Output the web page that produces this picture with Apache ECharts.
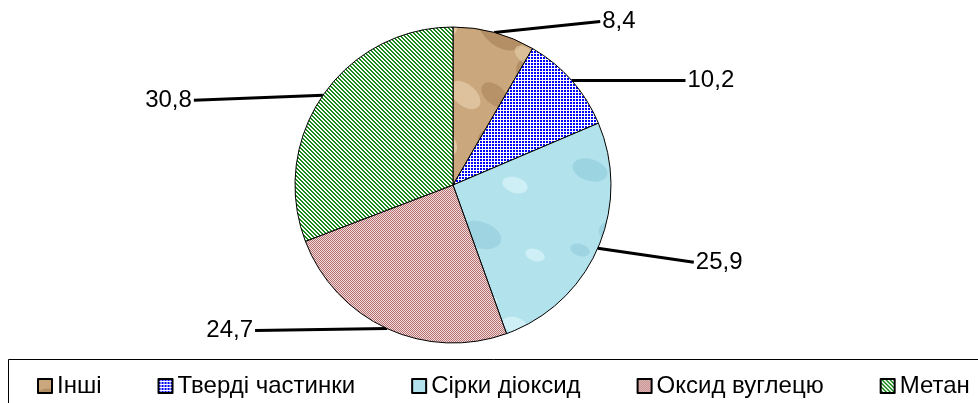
<!DOCTYPE html>
<html>
<head>
<meta charset="utf-8">
<script src="https://cdn.jsdelivr.net/npm/echarts@6/dist/echarts.min.js"></script>
<style>html,body{margin:0;padding:0;background:#fff;}#c{width:978px;height:403px;}</style>
</head>
<body>
<div id="c"></div>
<script>
const categories = ['Інші', 'Тверді частинки', 'Сірки діоксид', 'Оксид вуглецю', 'Метан'];
const values = [8.4, 10.2, 25.9, 24.7, 30.8];
const valueLabels = ['8,4', '10,2', '25,9', '24,7', '30,8'];

function mk(w, h, draw) {
  const c = document.createElement('canvas');
  c.width = w; c.height = h;
  draw(c.getContext('2d'), w, h);
  return c;
}
function blobsOn(g, w, h, list, rot) {
  list.forEach(b => {
    for (let dx = -w; dx <= w; dx += w) for (let dy = -h; dy <= h; dy += h) {
      g.fillStyle = b[3]; g.beginPath();
      g.ellipse(b[0] + dx, b[1] + dy, b[2], b[2] * 0.6, rot, 0, Math.PI * 2); g.fill();
    }
  });
}
const brown = mk(120, 120, (g, w, h) => {
  g.fillStyle = '#caa77c'; g.fillRect(0, 0, w, h);
  blobsOn(g, w, h, [
    [20,30,26,'rgba(140,100,60,0.35)'],[80,20,20,'rgba(240,222,190,0.55)'],
    [60,80,28,'rgba(130,92,55,0.3)'],[105,95,18,'rgba(240,222,190,0.5)'],
    [15,95,16,'rgba(150,110,70,0.35)'],[45,55,12,'rgba(235,215,180,0.5)']], 0.7);
});
const dots = mk(3, 3, (g) => {
  g.fillStyle = '#ffffff'; g.fillRect(0, 0, 3, 3);
  g.fillStyle = '#0000ff'; g.fillRect(0, 0, 2, 2);
});
const water = mk(140, 140, (g, w, h) => {
  g.fillStyle = '#b2e2eb'; g.fillRect(0, 0, w, h);
  blobsOn(g, w, h, [
    [30,30,18,'rgba(130,195,212,0.45)'],[95,45,13,'rgba(225,248,252,0.6)'],
    [60,95,22,'rgba(130,195,212,0.4)'],[115,115,10,'rgba(225,248,252,0.6)'],
    [20,110,10,'rgba(130,195,212,0.4)'],[70,20,8,'rgba(225,248,252,0.55)']], 0.3);
});
const checker = mk(2, 2, (g) => {
  g.fillStyle = '#f0dcdc'; g.fillRect(0, 0, 2, 2);
  g.fillStyle = '#b87070'; g.fillRect(0, 0, 1, 1); g.fillRect(1, 1, 1, 1);
});
const stripes = mk(4, 4, (g) => {
  g.fillStyle = '#ffffff'; g.fillRect(0, 0, 4, 4);
  g.fillStyle = '#1a8a1a';
  for (let i = 0; i < 4; i++) { g.fillRect(i, i, 1, 1); g.fillRect((i + 1) % 4, i, 1, 1); }
});
const fills = [brown, dots, water, checker, stripes];
const leader = [[0, 106], [0, 114], [0, 96], [0, 132], [0, 129]];
const labelShift = [-11, 0, 14, 2, 5];

const data = categories.map((name, i) => ({
  name, value: values[i],
  itemStyle: { color: { image: fills[i], repeat: 'repeat' } },
  labelLine: { length: leader[i][0], length2: leader[i][1] }
}));

function straightLine(p) {
  const pts = p.labelLinePoints;
  const d = labelShift[p.dataIndex];
  if (!pts) return { dy: d };
  const a = pts[0], b = pts[pts.length - 1];
  const e = [b[0], b[1] + d];
  return { dy: d, labelLinePoints: [a, [(a[0] + e[0]) / 2, (a[1] + e[1]) / 2], e] };
}

const FONT = 'Liberation Sans, Arial, sans-serif';
const chart = echarts.init(document.getElementById('c'), null, { renderer: 'canvas' });
chart.setOption({
  animation: false,
  backgroundColor: '#ffffff',
  graphic: [{
    type: 'rect', silent: true,
    shape: { x: 8.5, y: 359.5, width: 1000, height: 80 },
    style: { fill: 'none', stroke: '#000', lineWidth: 1 }
  }],
  legend: {
    data: categories,
    left: 32, top: 369,
    itemWidth: 14, itemHeight: 14, itemGap: 56,
    icon: 'rect',
    textStyle: { fontFamily: FONT, fontSize: 24, color: '#000' }
  },
  series: [{
    type: 'pie',
    center: [453, 185],
    radius: 158,
    startAngle: 90,
    clockwise: true,
    data,
    itemStyle: { borderColor: '#000', borderWidth: 1 },
    label: {
      show: true,
      formatter: p => valueLabels[p.dataIndex],
      fontFamily: FONT,
      fontSize: 24, color: '#000',
      distanceToLabelLine: 2
    },
    labelLayout: straightLine,
    labelLine: { show: true, lineStyle: { color: '#000', width: 3 } },
    emphasis: { disabled: true }
  }]
});
</script>
</body>
</html>
